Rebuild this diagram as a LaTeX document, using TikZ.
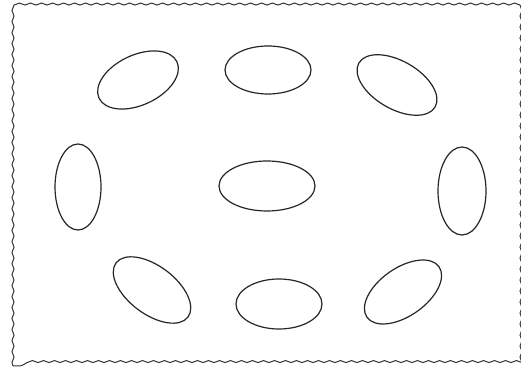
\documentclass[tikz,border=0pt]{standalone}
\usetikzlibrary{decorations.pathmorphing}
\begin{document}
\begin{tikzpicture}[x=1pt,y=1pt,
  wavy/.style={draw=black!80,line width=1pt,decorate,decoration={snake,amplitude=1pt,segment length=11pt}},
  oval/.style={draw=black!85,line width=1.2pt}]
\useasboundingbox (0,0) rectangle (521,374);
\fill[white] (0,0) rectangle (521,374);
\draw[wavy] (13,8) -- (13,367) -- (518,367) -- (518,8) -- cycle;
\draw[oval] (138,294) ellipse [x radius=43, y radius=25, rotate=25];
\draw[oval] (268,304) ellipse [x radius=43, y radius=24];
\draw[oval] (397,289) ellipse [x radius=44, y radius=24, rotate=-30];
\draw[oval] (78,187) ellipse [x radius=23, y radius=43];
\draw[oval] (267,188) ellipse [x radius=48, y radius=25];
\draw[oval] (462,183) ellipse [x radius=24, y radius=44];
\draw[oval] (152,84) ellipse [x radius=45, y radius=24, rotate=-37];
\draw[oval] (279,70) ellipse [x radius=43, y radius=25];
\draw[oval] (403,82) ellipse [x radius=44, y radius=24, rotate=35];
\end{tikzpicture}
\end{document}
